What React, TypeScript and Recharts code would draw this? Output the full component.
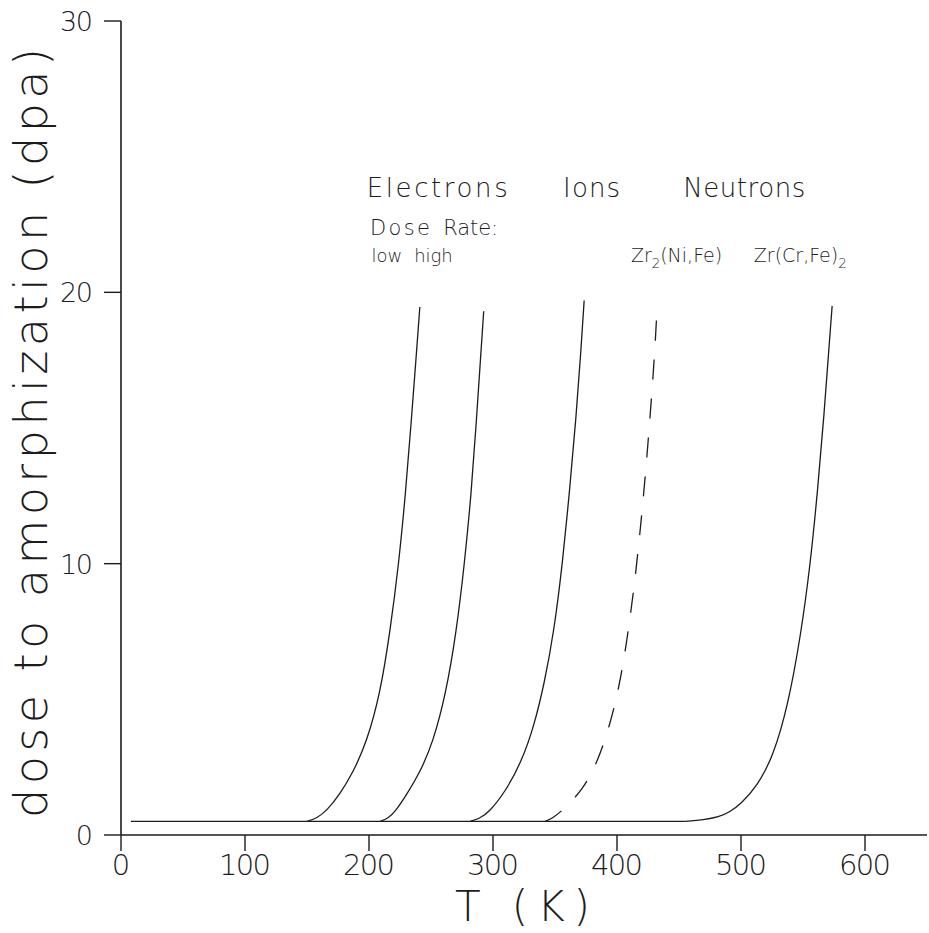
import React from 'react';
import { ComposedChart, Line, XAxis, YAxis, Scatter, Label } from 'recharts';

const FONT = "'DejaVu Sans', Roboto, sans-serif";
const FW = 200;
const INK = '#1c1c1c';

// Axis ticks
const xTicks = [0, 100, 200, 300, 400, 500, 600];
const yTicks = [0, 10, 20, 30];

// Series: T (K) vs dose to amorphization (dpa)
const baseline = [
  { T: 8, D: 0.5 },
  { T: 455, D: 0.5 },
];
const electronsLow = [
  { T: 150, D: 0.5 }, { T: 158, D: 0.62 }, { T: 166, D: 0.9 }, { T: 176.5, D: 1.5 },
  { T: 187, D: 2.3 }, { T: 198, D: 3.4 }, { T: 209, D: 5.2 }, { T: 217, D: 7.5 },
  { T: 224, D: 10.0 }, { T: 229.5, D: 12.6 }, { T: 234, D: 15.2 }, { T: 238, D: 17.6 },
  { T: 241, D: 19.46 },
];
const electronsHigh = [
  { T: 209, D: 0.5 }, { T: 215, D: 0.6 }, { T: 221, D: 0.85 }, { T: 230.5, D: 1.5 },
  { T: 241, D: 2.3 }, { T: 251.5, D: 3.4 }, { T: 262, D: 5.2 }, { T: 270.5, D: 7.5 },
  { T: 277, D: 10.0 }, { T: 282.5, D: 12.6 }, { T: 286.5, D: 15.2 }, { T: 290, D: 17.6 },
  { T: 292.5, D: 19.3 },
];
const ions = [
  { T: 281.5, D: 0.5 }, { T: 289, D: 0.6 }, { T: 297, D: 0.85 }, { T: 310, D: 1.6 },
  { T: 323, D: 2.7 }, { T: 333, D: 4.0 }, { T: 341.5, D: 5.6 }, { T: 349.5, D: 7.6 },
  { T: 356, D: 10.0 }, { T: 362, D: 12.8 }, { T: 367, D: 15.4 }, { T: 371, D: 17.9 },
  { T: 373.5, D: 19.7 },
];
const zr2NiFe = [
  { T: 342, D: 0.5 }, { T: 348, D: 0.62 }, { T: 356, D: 0.9 }, { T: 372.5, D: 1.66 },
  { T: 385, D: 2.76 }, { T: 394.5, D: 4.1 }, { T: 402, D: 5.5 }, { T: 408.5, D: 7.3 },
  { T: 414, D: 9.2 }, { T: 418.5, D: 11.1 }, { T: 423, D: 13.3 }, { T: 427, D: 15.6 },
  { T: 430.5, D: 17.8 }, { T: 432.5, D: 19.6 },
];
const zrCrFe2 = [
  { T: 455, D: 0.5 }, { T: 470, D: 0.56 }, { T: 482, D: 0.66 }, { T: 491, D: 0.85 },
  { T: 500, D: 1.15 }, { T: 513, D: 1.8 }, { T: 526, D: 2.9 }, { T: 538, D: 4.8 },
  { T: 548, D: 7.3 }, { T: 556, D: 10.0 }, { T: 562, D: 12.8 }, { T: 567, D: 15.5 },
  { T: 571, D: 18.0 }, { T: 573.5, D: 19.5 },
];

// Annotations
const labelTexts = ['Electrons', 'Ions', 'Neutrons', 'Dose', 'Rate:', 'low', 'high', 'Zr_{2}(Ni,Fe)', 'Zr(Cr,Fe)_{2}'];
const labelT = [255, 379.5, 502.6, 225, 282, 214.5, 252, 448, 547.8];
const labelD = [23.5, 23.5, 23.5, 22.1, 22.1, 21.1, 21.1, 21.1, 21.1];
const annotations = labelTexts.map((text, i) => ({ T: labelT[i], D: labelD[i], text }));

const xTitle = 'T (K)';
const yTitle = 'dose to amorphization (dpa)';

// style lookup (font size, rendered width; 0 = natural)
const labelStyle: Record<string, { size: number; len: number }> = {
  'Electrons': { size: 26, len: 141 },
  'Ions': { size: 26, len: 57 },
  'Neutrons': { size: 26, len: 122 },
  'Dose': { size: 21, len: 60 },
  'Rate:': { size: 21, len: 55 },
  'low': { size: 18, len: 0 },
  'high': { size: 18, len: 0 },
  'Zr_{2}(Ni,Fe)': { size: 19, len: 0 },
  'Zr(Cr,Fe)_{2}': { size: 19, len: 0 },
};

function renderRich(text: string, size: number) {
  const parts: React.ReactNode[] = [];
  const re = /_\{(.*?)\}/g;
  let last = 0;
  let m: RegExpExecArray | null;
  let k = 0;
  let shifted = false;
  while ((m = re.exec(text)) !== null) {
    if (m.index > last) {
      parts.push(<tspan key={k++} dy={shifted ? -size * 0.3 : 0}>{text.slice(last, m.index)}</tspan>);
      shifted = false;
    }
    parts.push(<tspan key={k++} dy={size * 0.3} fontSize={size * 0.7}>{m[1]}</tspan>);
    shifted = true;
    last = m.index + m[0].length;
  }
  if (last < text.length) {
    parts.push(<tspan key={k++} dy={shifted ? -size * 0.3 : 0}>{text.slice(last)}</tspan>);
  }
  return parts;
}

const AnnotationShape = (props: any) => {
  const { cx, cy, payload } = props;
  const st = labelStyle[payload.text] || { size: 20, len: 0 };
  return (
    <text
      x={cx}
      y={cy}
      textAnchor="middle"
      fontFamily={FONT}
      fontWeight={FW}
      fontSize={st.size}
      fill={INK}
      textLength={st.len || undefined}
      lengthAdjust="spacing"
    >
      {renderRich(payload.text, st.size)}
    </text>
  );
};

const XTick = (props: any) => {
  const { x, y, payload } = props;
  const s = String(payload.value);
  return (
    <text x={x} y={y + 22} textAnchor="middle" fontFamily={FONT} fontWeight={FW} fontSize={29} fill={INK}
      textLength={s.length > 1 ? s.length * 17.3 : undefined} lengthAdjust="spacing">
      {s}
    </text>
  );
};

const YTick = (props: any) => {
  const { x, y, payload } = props;
  const s = String(payload.value);
  return (
    <text x={x - 9} y={y + 10} textAnchor="end" fontFamily={FONT} fontWeight={FW} fontSize={27} fill={INK}
      textLength={s.length > 1 ? s.length * 16.5 : undefined} lengthAdjust="spacing">
      {s}
    </text>
  );
};

const XTitle = () => (
  <text x={455} y={921} textAnchor="start" fontFamily={FONT} fontWeight={FW} fontSize={42} fill={INK}
    textLength={135} lengthAdjust="spacing">
    {xTitle}
  </text>
);

const YTitle = () => (
  <text x={47} y={433} transform="rotate(-90 47 433)" textAnchor="middle" fontFamily={FONT} fontWeight={FW}
    fontSize={46} fill={INK} textLength={770} lengthAdjust="spacing">
    {yTitle}
  </text>
);

const lineProps = {
  type: 'basis' as const,
  dataKey: 'D',
  stroke: INK,
  strokeWidth: 1.3,
  dot: false,
  activeDot: false,
  isAnimationActive: false,
};

export default function App() {
  return (
    <div style={{ position: 'absolute', left: 0, top: 0, background: '#fff' }}>
      <ComposedChart width={929} height={933} margin={{ top: 21, right: 2, bottom: 0, left: 0 }}>
        <XAxis
          dataKey="T"
          type="number"
          domain={[0, 650]}
          ticks={xTicks}
          allowDataOverflow
          height={98}
          tickSize={16}
          tick={<XTick />}
          axisLine={{ stroke: INK, strokeWidth: 1.6 }}
          tickLine={{ stroke: INK, strokeWidth: 1.4 }}
        >
          <Label content={<XTitle />} />
        </XAxis>
        <YAxis
          dataKey="D"
          type="number"
          domain={[0, 30]}
          ticks={yTicks}
          allowDataOverflow
          width={121}
          tickSize={17}
          tick={<YTick />}
          axisLine={{ stroke: INK, strokeWidth: 1.6 }}
          tickLine={{ stroke: INK, strokeWidth: 1.4 }}
        >
          <Label content={<YTitle />} />
        </YAxis>
        <Line data={baseline} {...lineProps} type="linear" />
        <Line data={electronsLow} {...lineProps} />
        <Line data={electronsHigh} {...lineProps} />
        <Line data={ions} {...lineProps} />
        <Line data={zr2NiFe} {...lineProps} strokeDasharray="20 19" />
        <Line data={zrCrFe2} {...lineProps} />
        <Scatter data={annotations} dataKey="D" shape={<AnnotationShape />} isAnimationActive={false} />
      </ComposedChart>
    </div>
  );
}
